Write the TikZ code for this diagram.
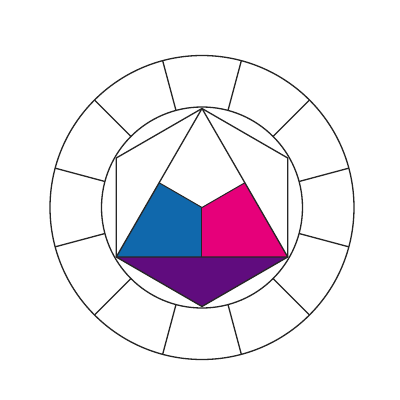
\documentclass[tikz,border=0pt]{standalone}
\usetikzlibrary{calc}
\begin{document}
\begin{tikzpicture}[x=1pt,y=1pt,
  ln/.style={line width=1.3pt,draw=black!85,line join=round},
  fillln/.style={line width=1.0pt,draw=black!85,line join=round}]
\definecolor{cblue}{HTML}{1068AC}
\definecolor{cmag}{HTML}{E6007A}
\definecolor{cpur}{HTML}{600C7E}
\useasboundingbox[fill=white] (-202,-192.5) rectangle (198,207.5);
\def\Ro{152}
\def\Ri{100.5}
\def\Rh{99}
% hexagon / triangle points
\coordinate (T) at (90:\Rh);
\coordinate (UL) at (150:\Rh);
\coordinate (LL) at (210:\Rh);
\coordinate (B) at (270:\Rh);
\coordinate (LR) at (330:\Rh);
\coordinate (UR) at (30:\Rh);
\coordinate (O) at (0,0);
\coordinate (ML) at ($(T)!0.5!(LL)$);
\coordinate (MR) at ($(T)!0.5!(LR)$);
\coordinate (MB) at ($(LL)!0.5!(LR)$);
% fills
\fill[cblue] (LL) -- (ML) -- (O) -- (MB) -- cycle;
\fill[cmag] (LR) -- (MR) -- (O) -- (MB) -- cycle;
\fill[cpur] (LL) -- (B) -- (LR) -- cycle;
% outlines
\draw[ln] (0,0) circle (\Ro);
\draw[ln] (0,0) circle (\Ri);
\foreach \a in {15,45,...,345} {
  \draw[ln] (\a:\Ri) -- (\a:\Ro);
}
\draw[ln] (T) -- (UL) -- (LL) -- (B) -- (LR) -- (UR) -- cycle;
\draw[ln] (LL) -- (T) -- (LR) -- cycle;
\draw[fillln] (ML) -- (O) -- (MR);
\draw[fillln] (O) -- (MB);
\end{tikzpicture}
\end{document}
